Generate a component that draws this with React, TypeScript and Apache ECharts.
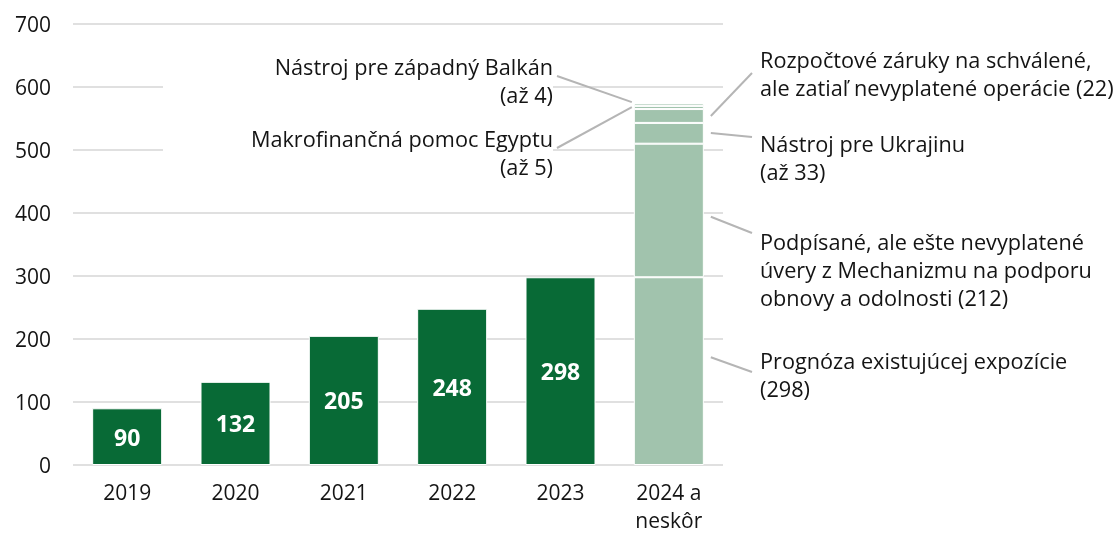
import React, { useEffect, useRef } from "react";
import * as echarts from "echarts";

const categories = ["2019", "2020", "2021", "2022", "2023", "2024 a\nneskôr"];
const historicValues = [90, 132, 205, 248, 298];

const forecastNames = [
  "Prognóza existujúcej expozície",
  "Podpísané, ale ešte nevyplatené úvery z Mechanizmu na podporu obnovy a odolnosti",
  "Nástroj pre Ukrajinu",
  "Rozpočtové záruky na schválené, ale zatiaľ nevyplatené operácie",
  "Makrofinančná pomoc Egyptu",
  "Nástroj pre západný Balkán",
];
const forecastValues = [298, 212, 33, 22, 5, 4];

const annotationTexts = [
  "Nástroj pre západný Balkán\n(až 4)",
  "Makrofinančná pomoc Egyptu\n(až 5)",
  "Rozpočtové záruky na schválené,\nale zatiaľ nevyplatené operácie (22)",
  "Nástroj pre Ukrajinu\n(až 33)",
  "Podpísané, ale ešte nevyplatené\núvery z Mechanizmu na podporu\nobnovy a odolnosti (212)",
  "Prognóza existujúcej expozície\n(298)",
];
const annotationSides = ["left", "left", "right", "right", "right", "right"];
const annotationAnchorValues = [576, 568, 554, 527, 394, 171];

const FONT = '"Open Sans", "Noto Sans", sans-serif';
const DARK = "#086a36";
const LIGHT = "#a1c3ad";
const GRID = "#e0e0e0";
const TEXT = "#141414";

export default function App() {
  const ref = useRef<HTMLDivElement>(null);

  useEffect(() => {
    if (!ref.current) return;
    const chart = echarts.init(ref.current, undefined, { renderer: "svg" });
    const lastIdx = categories.length - 1;

    chart.setOption({
      animation: false,
      grid: { left: 73, right: 396, top: 24, bottom: 70 },
      xAxis: {
        type: "category",
        data: categories,
        axisLine: { show: false },
        axisTick: { show: false },
        axisLabel: {
          interval: 0,
          fontSize: 21,
          fontFamily: FONT,
          color: TEXT,
          margin: 13,
          lineHeight: 28,
          verticalAlign: "top",
        },
      },
      yAxis: {
        type: "value",
        min: 0,
        max: 700,
        interval: 100,
        axisLine: { show: false },
        axisTick: { show: false },
        splitLine: { lineStyle: { color: GRID, width: 2 } },
        axisLabel: { fontSize: 21, fontFamily: FONT, color: TEXT, margin: 22 },
      },
      series: [
        {
          type: "bar",
          name: "historic",
          barWidth: 70,
          barGap: "-100%",
          data: categories.map((_, i) => (i < historicValues.length ? historicValues[i] : "-")),
          itemStyle: { color: DARK, borderColor: "#fff", borderWidth: 1 },
          label: {
            show: true,
            position: "inside",
            color: "#fff",
            fontWeight: "bold",
            fontSize: 23,
            fontFamily: FONT,
          },
          z: 3,
        },
        ...forecastValues.map((v, i) => ({
          type: "bar",
          name: forecastNames[i],
          stack: "forecast",
          barWidth: 70,
          barGap: "-100%",
          data: categories.map((_, j) => (j === lastIdx ? v : "-")),
          itemStyle: { color: LIGHT, borderColor: "#fff", borderWidth: 1 },
          z: 3,
        })),
      ],
    });

    const barHalf = 35;
    const baselines = [73, 145, 66, 150, 248, 367];
    const lineEndOffsets = [3, 3, 7, -13, -15, 5];
    const graphics: any[] = [
      {
        type: "rect",
        z: 1,
        shape: { x: 163, y: 45, width: 390, height: 140 },
        style: { fill: "#fff" },
        silent: true,
      },
    ];
    annotationTexts.forEach((t, i) => {
      const left = annotationSides[i] === "left";
      const [cx, cy] = chart.convertToPixel({ xAxisIndex: 0, yAxisIndex: 0 }, [
        lastIdx,
        annotationAnchorValues[i],
      ]) as number[];
      const textX = left ? 553 : 760;
      const ax = left ? cx - barHalf - 2 : cx + barHalf + 7;
      const ex = left ? 557 : 752;
      const ey = baselines[i] + lineEndOffsets[i];
      graphics.push({
        type: "line",
        z: 5,
        shape: { x1: ax, y1: cy, x2: ex, y2: ey },
        style: { stroke: "#b5b5b5", lineWidth: 2 },
        silent: true,
      });
      graphics.push({
        type: "text",
        z: 5,
        x: textX,
        y: baselines[i] - 21,
        style: {
          text: t,
          font: `21.7px ${FONT}`,
          fill: TEXT,
          align: left ? "right" : "left",
          verticalAlign: "top",
          lineHeight: 28,
        },
        silent: true,
      });
    });
    chart.setOption({ graphic: graphics });

    return () => chart.dispose();
  }, []);

  return (
    <div
      ref={ref}
      style={{ position: "fixed", left: 0, top: 0, width: 1119, height: 535 }}
    />
  );
}
